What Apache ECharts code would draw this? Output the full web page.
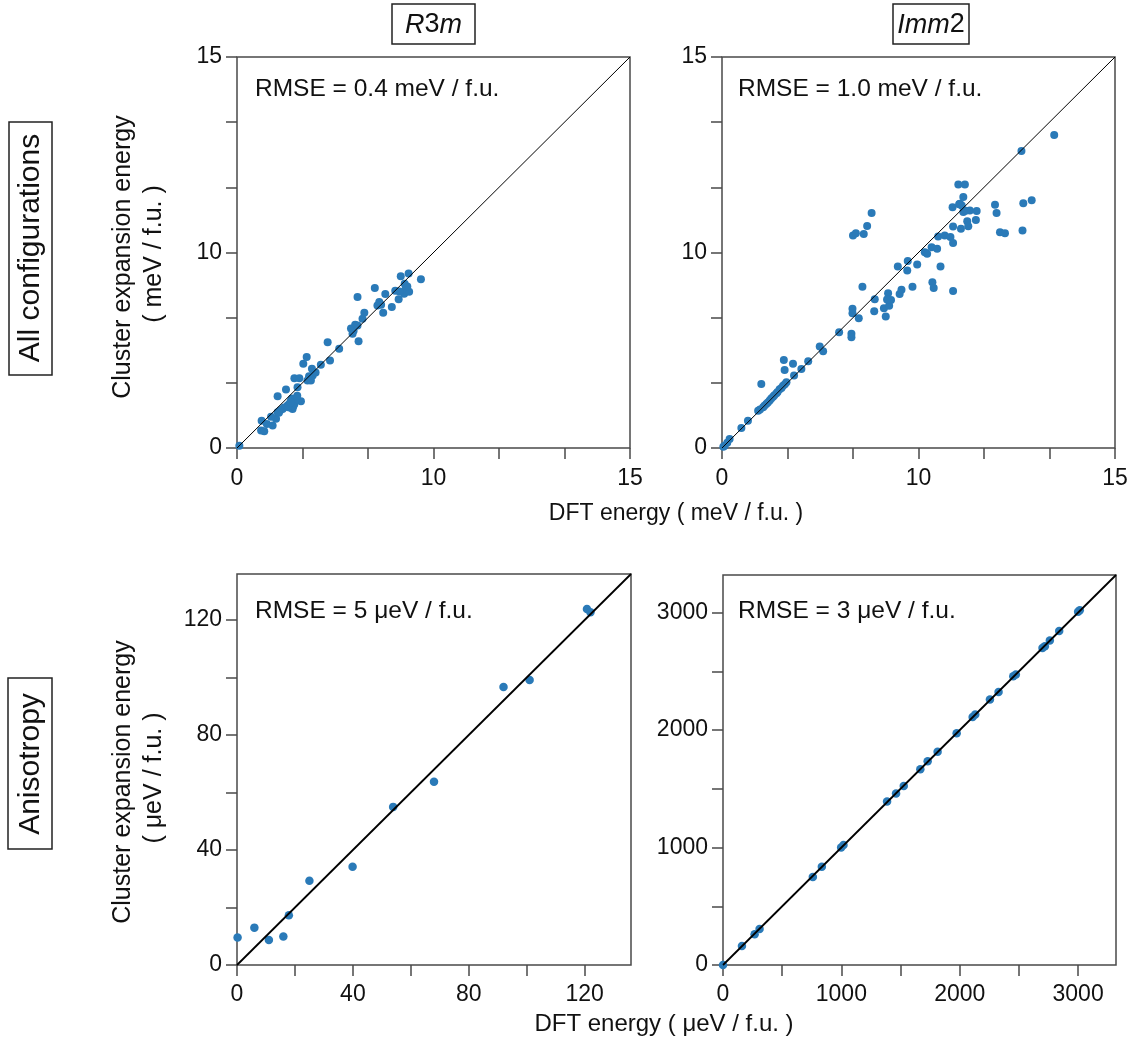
<!DOCTYPE html>
<html>
<head>
<meta charset="utf-8">
<script src="https://cdn.jsdelivr.net/npm/echarts@6/dist/echarts.min.js"></script>
<style>html,body{margin:0;padding:0;background:#fff}#c{width:1136px;height:1046px}</style>
</head>
<body>
<div id="c"></div>
<script>
// ---------- DATA ----------
// Top row axes: 0..15 with ticks every 2.5 ; labels as printed in the figure
const topTickValues = [0, 2.5, 5, 7.5, 10, 12.5, 15];
const topLabelValues = [0, 7.5, 15];
const topLabelTexts = ['0', '10', '15'];
const blTickValues = [0, 20, 40, 60, 80, 100, 120];
const blLabelValues = [0, 40, 80, 120];
const brTickValues = [0, 500, 1000, 1500, 2000, 2500, 3000];
const brLabelValues = [0, 1000, 2000, 3000];

// R3m, all configurations (DFT, CE)
const r3mAllDft = [0.09,0.92,1.04,0.94,1.14,1.36,1.49,1.55,1.55,1.74,1.87,1.93,2.06,2.12,2.19,2.19,2.31,2.38,2.44,2.53,2.66,2.69,2.82,2.86,2.89,3.20,3.46,3.55,3.90,4.35,4.41,4.51,4.60,4.64,4.79,4.86,5.26,5.36,5.43,5.58,5.66,5.91,6.04,6.17,6.25,6.38,6.44,6.55,6.57,7.02,2.00,2.10,1.80,2.25,1.65,2.00,2.30,2.75,3.00,4.45,4.60,6.40,6.50,5.50,6.20,1.30,1.60,2.15,1.95,2.05];
const r3mAllCe  = [0.09,0.67,0.64,1.05,0.92,0.86,1.12,1.37,1.99,1.50,2.24,1.63,1.82,1.50,1.69,2.68,2.33,2.68,1.79,3.23,3.49,2.59,2.59,3.04,2.78,3.19,4.06,3.36,3.81,4.58,4.38,4.73,5.79,4.10,4.96,5.19,6.14,5.47,5.60,5.19,5.91,5.41,6.03,5.71,6.59,5.92,6.12,6.69,5.99,6.47,1.70,1.90,1.55,1.85,1.45,1.55,2.00,2.75,2.90,4.50,4.70,6.30,6.20,5.50,6.00,1.20,1.35,1.60,1.60,1.75];

// Imm2, all configurations (DFT, CE)
const imm2AllDft = [0.10,0.29,0.74,0.99,1.38,1.50,1.57,1.69,1.82,1.95,2.08,2.20,2.33,2.36,2.39,2.46,2.71,2.75,3.03,3.29,3.73,3.86,4.47,4.94,4.94,4.98,4.98,5.00,5.11,5.22,5.36,5.41,5.54,5.71,5.81,5.83,6.18,6.25,6.34,6.38,6.45,6.71,6.78,6.85,7.07,7.09,7.27,7.45,7.74,7.83,8.00,8.03,8.08,8.21,8.34,8.25,8.50,8.72,8.80,8.82,8.82,8.82,9.02,9.08,9.12,9.21,9.21,9.27,9.36,9.40,9.46,9.69,9.72,10.42,10.48,10.61,10.80,11.43,11.47,11.50,11.82,12.68,0.05,0.20,1.45,1.62,1.75,1.88,2.00,2.12,2.27,2.40,9.15,9.30,9.05,6.30];
const imm2AllCe  = [0.09,0.35,0.77,1.05,1.43,2.46,1.56,1.69,1.82,1.97,2.10,2.25,2.39,3.38,2.99,2.52,3.23,2.78,3.03,3.33,3.89,3.71,4.44,4.38,4.25,5.34,5.17,8.15,8.24,4.98,6.19,8.21,8.52,9.02,5.25,5.71,5.36,5.04,5.94,5.46,5.68,6.96,5.91,6.07,6.81,7.17,6.19,7.04,7.51,7.45,7.70,6.36,6.14,7.64,6.96,8.11,8.15,8.09,9.24,8.50,7.86,6.02,10.11,9.37,8.41,9.63,9.05,10.11,8.70,8.51,9.11,8.75,9.09,9.33,9.02,8.28,8.24,11.39,8.34,9.39,9.50,12.01,0.05,0.20,1.48,1.62,1.75,1.90,2.02,2.15,2.30,2.45,9.30,9.10,9.35,5.70];

// R3m, anisotropy (DFT, CE)
const r3mAnisoDft = [0.2,6.0,11.0,16.0,17.9,25.0,39.9,53.9,68.0,92.0,101.0,120.8,122.0];
const r3mAnisoCe  = [9.6,13.0,8.7,9.9,17.3,29.3,34.2,55.0,63.7,96.7,99.1,123.8,122.7];

// Imm2, anisotropy (DFT, CE)
const imm2AnisoDft = [0,160,267,309,759,835,998,1018,1386,1462,1527,1667,1729,1813,1974,2109,2131,2255,2328,2452,2474,2699,2719,2761,2840,3000,3014];
const imm2AnisoCe  = [0,162,261,306,749,836,1001,1021,1392,1460,1523,1667,1735,1815,1973,2112,2132,2260,2325,2458,2472,2699,2713,2762,2844,3008,3020];

const topMax = 15, blMax = 136, brMax = 3320;
const rmseTexts = ['RMSE = 0.4 meV / f.u.', 'RMSE = 1.0 meV / f.u.', 'RMSE = 5 μeV / f.u.', 'RMSE = 3 μeV / f.u.'];

// ---------- CHART ----------
const FONT = '"Liberation Sans", Arial, Helvetica, sans-serif';
const AX = '#4a4a4a';
const DOT = '#2a7ab8';

const grids = [
  {left: 237, top: 57, width: 393, height: 391},
  {left: 722, top: 57, width: 393, height: 391},
  {left: 237, top: 574, width: 394, height: 391},
  {left: 723, top: 575, width: 393, height: 390}
];

function zip(a, b) { return a.map((v, i) => [v, b[i]]); }

function makeAxis(gi, max, tickVals, labelVals, fmt, margin) {
  return {
    type: 'value', gridIndex: gi, min: 0, max: max,
    axisLine: {show: false},
    splitLine: {show: false},
    axisTick: {show: true, inside: false, length: 11, customValues: tickVals, lineStyle: {color: AX, width: 1.5}},
    axisLabel: {show: true, customValues: labelVals, formatter: fmt, margin: margin,
      color: '#111', fontFamily: FONT, fontSize: 23}
  };
}
const topFmt = v => { const i = topLabelValues.indexOf(v); return i >= 0 ? topLabelTexts[i] : ''; };
const numFmt = v => String(v);

const xAxes = [
  makeAxis(0, topMax, topTickValues, topLabelValues, topFmt, 19),
  makeAxis(1, topMax, topTickValues, topLabelValues, topFmt, 19),
  makeAxis(2, blMax, blTickValues, blLabelValues, numFmt, 18),
  makeAxis(3, brMax, brTickValues, brLabelValues, numFmt, 18)
];
const yAxes = [
  makeAxis(0, topMax, topTickValues, topLabelValues, topFmt, 15),
  makeAxis(1, topMax, topTickValues, topLabelValues, topFmt, 15),
  makeAxis(2, blMax, blTickValues, blLabelValues, numFmt, 15),
  makeAxis(3, brMax, brTickValues, brLabelValues, numFmt, 15)
];

const datasets = [
  [r3mAllDft, r3mAllCe, topMax, 1],
  [imm2AllDft, imm2AllCe, topMax, 1],
  [r3mAnisoDft, r3mAnisoCe, blMax, 1.8],
  [imm2AnisoDft, imm2AnisoCe, brMax, 1.8]
];
const series = [];
datasets.forEach((d, i) => {
  series.push({
    type: 'line', xAxisIndex: i, yAxisIndex: i, data: [[0, 0], [d[2], d[2]]],
    symbol: 'none', silent: true, z: 3,
    lineStyle: {color: '#000', width: d[3]}
  });
  series.push({
    type: 'scatter', xAxisIndex: i, yAxisIndex: i, data: zip(d[0], d[1]),
    symbolSize: i < 2 ? 8 : 8.5, z: 2,
    itemStyle: {color: DOT, opacity: 1}
  });
});

const T = (x, y, text, size, extra) => Object.assign({
  type: 'text', x: x, y: y, silent: true,
  style: {text: text, fontFamily: FONT, fontSize: size, fill: '#111', align: 'center', verticalAlign: 'middle'}
}, extra || {});

const graphic = [
  // column headers
  {type: 'rect', shape: {x: 392, y: 4, width: 83, height: 40}, style: {fill: 'none', stroke: '#222', lineWidth: 1.5}},
  {type: 'text', x: 433.5, y: 25, style: {text: '{i|R}{n|3}{i|m}', align: 'center', verticalAlign: 'middle',
    rich: {i: {fontFamily: FONT, fontSize: 27, fontStyle: 'italic', fill: '#111'}, n: {fontFamily: FONT, fontSize: 27, fill: '#111'}}}},
  {type: 'rect', shape: {x: 893, y: 4, width: 76, height: 40}, style: {fill: 'none', stroke: '#222', lineWidth: 1.5}},
  {type: 'text', x: 931, y: 25, style: {text: '{i|Imm}{n|2}', align: 'center', verticalAlign: 'middle',
    rich: {i: {fontFamily: FONT, fontSize: 27, fontStyle: 'italic', fill: '#111'}, n: {fontFamily: FONT, fontSize: 27, fill: '#111'}}}},
  // row labels
  {type: 'rect', shape: {x: 9, y: 122, width: 43, height: 253}, style: {fill: 'none', stroke: '#222', lineWidth: 1.5}},
  T(31, 248, 'All configurations', 30, {rotation: Math.PI / 2}),
  {type: 'rect', shape: {x: 8, y: 678, width: 44, height: 171}, style: {fill: 'none', stroke: '#222', lineWidth: 1.5}},
  T(31, 764, 'Anisotropy', 30, {rotation: Math.PI / 2}),
  // y axis names
  T(123, 257, 'Cluster expansion energy', 25, {rotation: Math.PI / 2}),
  T(154, 254, '( meV / f.u. )', 25, {rotation: Math.PI / 2}),
  T(123, 782, 'Cluster expansion energy', 25, {rotation: Math.PI / 2}),
  T(154, 778, '( μeV / f.u. )', 25, {rotation: Math.PI / 2}),
  // x axis names
  T(676, 514, 'DFT energy ( meV / f.u. )', 23),
  T(664, 1024, 'DFT energy ( μeV / f.u. )', 24),
  // RMSE
  T(255, 89, rmseTexts[0], 24.5, {}),
  T(738, 89, rmseTexts[1], 24.5, {}),
  T(255, 611, rmseTexts[2], 24.5, {}),
  T(738, 611, rmseTexts[3], 24.5, {})
];
graphic.slice(-4).forEach(g => { g.style.align = 'left'; });

const chart = echarts.init(document.getElementById('c'), null, {renderer: 'canvas'});
chart.setOption({
  animation: false,
  backgroundColor: '#fff',
  grid: grids.map(g => Object.assign({show: true, borderColor: AX, borderWidth: 1.5, backgroundColor: 'transparent'}, g)),
  xAxis: xAxes,
  yAxis: yAxes,
  series: series,
  graphic: graphic
});
</script>
</body>
</html>
